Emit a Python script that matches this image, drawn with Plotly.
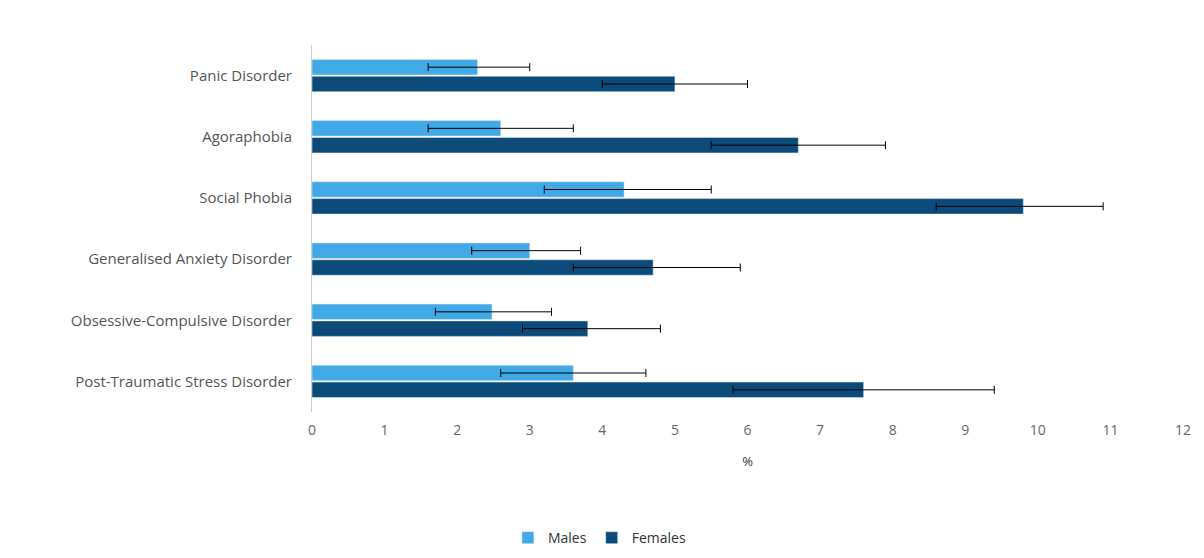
import plotly.graph_objects as go

disorders = ["Panic Disorder", "Agoraphobia", "Social Phobia", "Generalised Anxiety Disorder",
             "Obsessive-Compulsive Disorder", "Post-Traumatic Stress Disorder"]
males = [2.28, 2.6, 4.3, 3.0, 2.48, 3.6]
males_lo = [1.6, 1.6, 3.2, 2.2, 1.7, 2.6]
males_hi = [3.0, 3.6, 5.5, 3.7, 3.3, 4.6]
females = [5.0, 6.7, 9.8, 4.7, 3.8, 7.6]
females_lo = [4.0, 5.5, 8.6, 3.6, 2.9, 5.8]
females_hi = [6.0, 7.9, 10.9, 5.9, 4.8, 9.4]

def err(v, lo, hi):
    return dict(type="data", symmetric=False,
                array=[h - x for x, h in zip(v, hi)],
                arrayminus=[x - l for x, l in zip(v, lo)],
                color="black", thickness=1, width=4)

fig = go.Figure()
fig.add_trace(go.Bar(y=disorders, x=males, name="Males", orientation="h",
                     marker_color="#41a9e6", error_x=err(males, males_lo, males_hi)))
fig.add_trace(go.Bar(y=disorders, x=females, name="Females", orientation="h",
                     marker_color="#0c4a7a", error_x=err(females, females_lo, females_hi)))

fig.update_layout(
    width=1204, height=558,
    paper_bgcolor="white", plot_bgcolor="white",
    font=dict(family="Open Sans", color="#555", size=14),
    barmode="group", bargap=0.45, bargroupgap=0.08,
    margin=dict(l=304, r=29, t=37, b=143),
    xaxis=dict(range=[0, 12], dtick=1, showgrid=False, zeroline=False, automargin=False,
               title=dict(text="%", font=dict(size=13, color="#333"), standoff=18), ticks="",
               ticklabelstandoff=8, tickfont=dict(size=14, color="#666")),
    yaxis=dict(autorange="reversed", showline=True, linecolor="#ccc", linewidth=1,
               automargin=False, ticks="", ticklabelstandoff=16,
               tickfont=dict(size=15, color="#555")),
    legend=dict(orientation="h", x=0.33, xanchor="center", y=-0.3, yanchor="top",
                font=dict(size=14, color="#333")),
)

fig.write_html("out.html")
